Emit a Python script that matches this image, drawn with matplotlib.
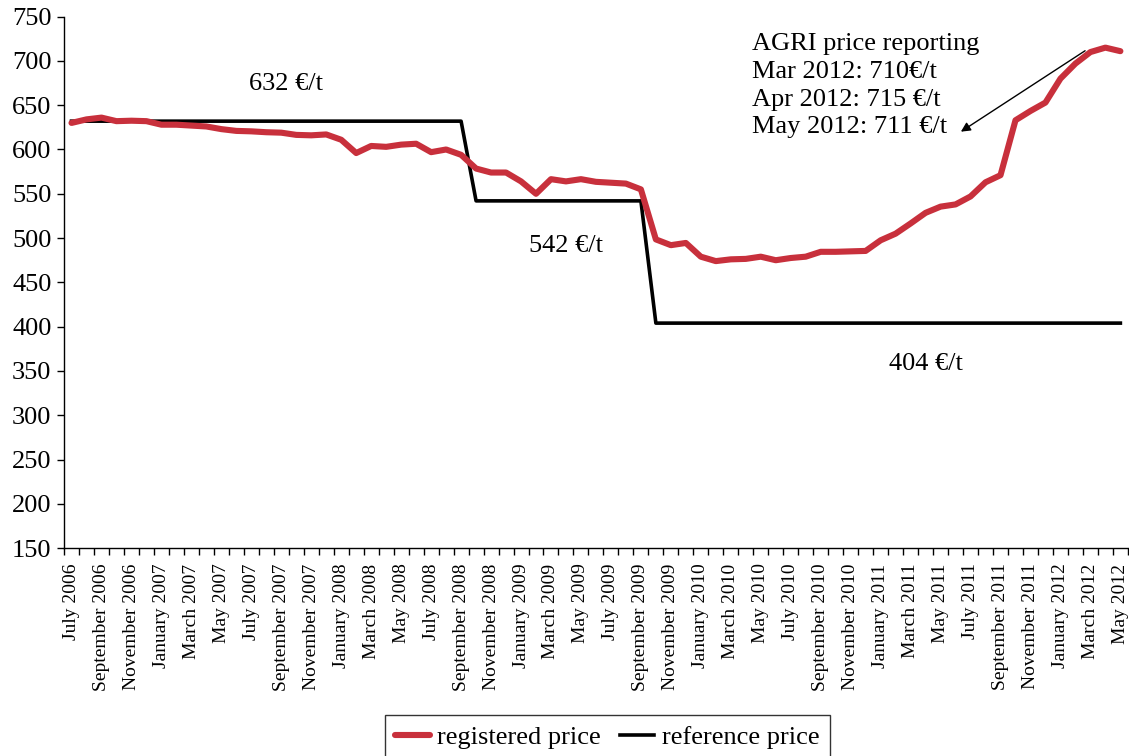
import numpy as np
import pandas as pd
from matplotlib import pyplot as plt

# monthly data, July 2006 .. May 2012
months = pd.date_range("2006-07-01", periods=71, freq="MS")
month_labels = [d.strftime("%B %Y") for d in months]

registered_price = [
    630, 634, 636, 632, 632.5, 632, 628, 628, 627, 626,
    623, 621, 620.5, 619.5, 619, 616.5, 616, 617, 611, 596,
    604, 603, 605.5, 606.5, 597, 600, 594, 578.5, 574, 574,
    564, 550, 566.5, 564, 566.5, 563.5, 562.5, 561.5, 555, 498.5,
    492, 494.5, 479, 474, 476, 476.5, 479, 475, 477.5, 479,
    484.5, 484.5, 485, 485.5, 497.5, 505, 516.5, 528.5, 535.5, 538,
    547, 563, 571, 633, 643.5, 653, 680, 697, 710, 715,
    711,
]
reference_price = [632] * 27 + [542] * 12 + [404] * 32

ref_labels = ["632 €/t", "542 €/t", "404 €/t"]
agri_note = "AGRI price reporting\nMar 2012: 710€/t\nApr 2012: 715 €/t\nMay 2012: 711 €/t"

plt.rcParams['font.family'] = ['Liberation Serif', 'DejaVu Serif']

fig = plt.figure(figsize=(11.29, 7.56), dpi=100)
ax = fig.add_axes([0.0567, 0.275, 0.9423, 0.703])

x = np.arange(len(months))
ax.plot(x, registered_price, color='#c8303c', lw=4.4, solid_capstyle='round',
        label='registered price', zorder=3)
ax.plot(x, reference_price, color='black', lw=2.6, label='reference price', zorder=2)

ax.set_xlim(-0.5, len(months) - 0.5)
ax.set_ylim(150, 750)
ax.set_yticks(np.arange(150, 751, 50))
ax.tick_params(axis='y', labelsize=19, length=5, width=1, pad=4)

ax.set_xticks(np.arange(-0.5, len(months)), minor=True)
ax.set_xticks(x[::2])
ax.set_xticklabels(month_labels[::2], rotation=90, fontsize=14)
ax.tick_params(axis='x', which='major', length=0, pad=11)
ax.tick_params(axis='x', which='minor', length=5, width=1, direction='out')

for s in ['top', 'right']:
    ax.spines[s].set_visible(False)
for s in ['left', 'bottom']:
    ax.spines[s].set_linewidth(1)

ax.text(14.3, 674, ref_labels[0], fontsize=19, ha='center', va='center')
ax.text(33.0, 491, ref_labels[1], fontsize=19, ha='center', va='center')
ax.text(57.0, 358, ref_labels[2], fontsize=19, ha='center', va='center')

ax.text(45.4, 731, agri_note, fontsize=19, ha='left', va='top', linespacing=1.33)
ax.annotate('', xy=(59.2, 618.4), xytext=(67.8, 713.2),
            arrowprops=dict(arrowstyle='-|>', color='black', lw=1, mutation_scale=14))

leg = fig.legend(loc='upper center', bbox_to_anchor=(0.538, 0.054), ncol=2,
                 fontsize=19, frameon=True, fancybox=False, edgecolor='black',
                 handlelength=1.3, columnspacing=0.7, handletextpad=0.3,
                 borderpad=0.4, borderaxespad=0)
leg.get_frame().set_linewidth(1)

plt.savefig("out.png", dpi=100)
